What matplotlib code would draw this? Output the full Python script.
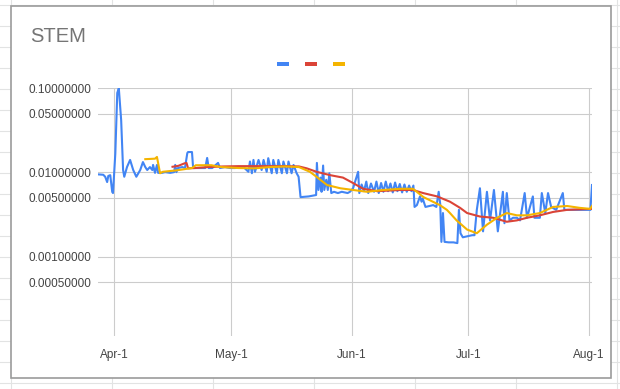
import matplotlib
matplotlib.use("Agg")
import matplotlib.pyplot as plt
from matplotlib.lines import Line2D
from matplotlib.patches import Rectangle
from matplotlib.ticker import FixedLocator, FixedFormatter, NullLocator

plt.rcParams['font.family'] = ['Liberation Sans', 'DejaVu Sans']

# ---------------- data ----------------
title = "STEM"
month_days = [0, 30, 61, 91, 122]          # days since Apr-1
month_labels = ["Apr-1", "May-1", "Jun-1", "Jul-1", "Aug-1"]
y_ticks = [0.1, 0.05, 0.01, 0.005, 0.001, 0.0005]

blue_days = [
    -4.1, -2.8, -2.3, -1.8, -1.5, -1.0, -0.5, -0.3, 0.3, 0.8, 1.2, 1.8, 2.3, 2.6, 3.3,
    4.1, 4.9, 5.7, 6.7, 7.4, 8.0, 8.5, 9.2, 9.8, 10.0, 10.5, 11.0, 11.3, 11.8,
    12.3, 13.1, 14.4, 15.4, 15.7, 16.0, 16.4, 17.5, 18.2, 18.8, 19.0, 20.0, 20.3,
    20.8, 22.1, 23.4, 23.9, 24.3, 25.2, 26.7, 27.2, 28.5, 29.8, 31.1, 32.4, 33.5,
    34.5, 34.9, 35.4, 35.8, 36.2, 37.1, 37.9, 38.4, 39.2, 39.6, 40.5, 40.9, 41.8,
    42.2, 43.1, 43.5, 44.4, 44.8, 45.6, 46.1, 46.9, 47.4,
    47.9, 50.0, 51.9, 52.1, 52.5, 53.0, 53.3, 53.7, 54.0, 54.5, 54.9, 55.3, 55.8,
    56.5, 57.5, 58.5, 60.0, 60.6, 61.4, 62.7, 63.0, 63.6, 64.2, 64.8, 65.3, 66.0,
    66.8, 67.4, 68.0, 68.6, 69.2, 69.8, 70.4, 71.0, 71.6, 72.2, 72.8, 73.4, 74.0,
    74.6, 75.2, 75.8, 76.4, 76.9,
    77.2, 77.8, 78.6, 79.0, 79.3, 80.0, 81.0, 82.0, 82.8, 83.4, 83.8, 84.1, 84.5,
    84.9, 86.0, 87.2, 88.2, 88.6, 89.0, 89.6, 92.0,
    92.6, 93.2, 94.0, 94.8, 95.8, 96.6, 97.6, 98.6, 99.9, 100.3, 100.9, 101.6, 102.5,
    103.5, 104.3, 105.5, 106.1, 107.6, 108.0, 109.4, 109.9, 110.8, 111.5, 112.3,
    113.6, 115.3, 115.7, 118.0, 121.5, 122.4, 122.8,
]
blue_vals = [
    0.0095, 0.0094, 0.0089, 0.0077, 0.0091, 0.0093, 0.0059, 0.0057, 0.0168, 0.088, 0.100, 0.042, 0.0107, 0.0089, 0.0116,
    0.0141, 0.0107, 0.0089, 0.0107, 0.0133, 0.0116, 0.0107, 0.0116, 0.0107, 0.0123, 0.0099, 0.0123, 0.0099, 0.0099,
    0.0099, 0.0101, 0.0099, 0.0101, 0.0123, 0.0101, 0.0113, 0.0116, 0.0113, 0.0170, 0.0175, 0.0175, 0.0113,
    0.0113, 0.0113, 0.0113, 0.0149, 0.0113, 0.0113, 0.0130, 0.0113, 0.0116, 0.0113, 0.0113, 0.0116, 0.0113,
    0.0102, 0.0135, 0.0098, 0.0141, 0.0102, 0.0141, 0.0107, 0.0141, 0.0102, 0.0148, 0.0098, 0.0141, 0.0098,
    0.0141, 0.0098, 0.0135, 0.0098, 0.0135, 0.0098, 0.0123, 0.0098, 0.0089,
    0.0051, 0.0052, 0.0054, 0.0130, 0.0062, 0.0087, 0.0059, 0.0121, 0.0062, 0.0082, 0.0062, 0.0098, 0.0057,
    0.0059, 0.0057, 0.0059, 0.0057, 0.0059, 0.0065, 0.0102, 0.0057, 0.0072, 0.0060, 0.0078, 0.0057, 0.0074,
    0.0059, 0.0078, 0.0057, 0.0075, 0.0059, 0.0078, 0.0060, 0.0074, 0.0058, 0.0076, 0.0060, 0.0073, 0.0058,
    0.0072, 0.0059, 0.0070, 0.0060, 0.0070,
    0.0039, 0.0041, 0.0052, 0.0045, 0.0049, 0.0039, 0.0040, 0.0041, 0.0039, 0.0059, 0.0042, 0.0015, 0.0033,
    0.0015, 0.00148, 0.00148, 0.00145, 0.0036, 0.0019, 0.0017, 0.0018,
    0.0018, 0.0036, 0.0065, 0.0020, 0.0059, 0.0027, 0.0062, 0.0020, 0.0059, 0.0025, 0.0057, 0.0027, 0.0029,
    0.0029, 0.0027, 0.0057, 0.0029, 0.0052, 0.0029, 0.0029, 0.0057, 0.0033, 0.0057, 0.0039,
    0.0036, 0.0057, 0.0036, 0.0036, 0.0036, 0.0036, 0.0071,
]

red_days = [15.0, 16.5, 18.0, 18.6, 19.0, 20.8, 24.0, 28.0, 32.0, 36.0, 40.0, 44.0, 47.5, 49.5,
            52.0, 55.5, 58.8, 61.4, 64.0, 67.6, 73.5, 76.8, 79.4, 83.0, 86.3, 88.9, 90.7,
            94.0, 97.4, 100.9, 103.5, 106.1, 109.4, 112.8, 116.4, 122.8]
red_vals = [0.0117, 0.0120, 0.0128, 0.0130, 0.0112, 0.0113, 0.0116, 0.0118, 0.0119, 0.0119, 0.0119, 0.0119, 0.0118, 0.0112,
            0.0102, 0.0093, 0.0087, 0.0075, 0.0064, 0.0060, 0.0062, 0.0062, 0.0057, 0.0052, 0.0045, 0.0038, 0.0033,
            0.0030, 0.0029, 0.0026, 0.0027, 0.0029, 0.0031, 0.0034, 0.0036, 0.0037]

yellow_days = [8.0, 10.5, 11.0, 11.8, 12.5, 16.0, 20.0, 21.0, 25.0, 27.5, 32.0, 36.0, 40.0, 44.0,
               47.5, 50.3, 52.0, 54.7, 58.1, 61.4, 65.0, 69.1, 73.5, 76.8, 79.5, 81.9, 83.7, 85.5,
               86.3, 88.0, 90.7, 93.2, 95.8, 98.4, 100.9, 103.5, 106.1, 109.4, 112.8, 116.4, 119.7,
               122.3, 122.8]
yellow_vals = [0.0144, 0.0146, 0.0153, 0.0098, 0.0102, 0.0106, 0.0113, 0.0122, 0.0122, 0.0116, 0.0113, 0.0112, 0.0116, 0.0118,
               0.0116, 0.0102, 0.0089, 0.0071, 0.0065, 0.0062, 0.0059, 0.0062, 0.0064, 0.0064, 0.0051, 0.0045, 0.0041, 0.0036,
               0.0033, 0.0027, 0.0021, 0.0019, 0.0024, 0.0029, 0.0033, 0.0031, 0.0031, 0.0033, 0.0039, 0.0040, 0.0038,
               0.0037, 0.0040]

series_colors = ["#4285F4", "#DB4437", "#F4B400"]

# ---------------- layout ----------------
W, H = 620, 389
fig = plt.figure(figsize=(W / 100, H / 100), dpi=100)
fig.patch.set_facecolor("white")

def fx(px):
    return px / W

def fy(py):
    return 1 - py / H

# spreadsheet cell grid behind the chart
for k in range(19):
    yy = 5 + 21 * k
    fig.add_artist(Line2D([0, 1], [fy(yy), fy(yy)], color="#e2e3e3", lw=0.8, zorder=0))
for k in range(7):
    xx = 11 + 101 * k
    fig.add_artist(Line2D([fx(xx), fx(xx)], [0, 1], color="#e2e3e3", lw=0.8, zorder=0))

# chart card
fig.add_artist(Rectangle((fx(11), fy(378)), fx(611) - fx(11), fy(6) - fy(378),
                         facecolor="white", edgecolor="#9b9b9b", lw=1.2, zorder=1))

# title
fig.text(fx(30), fy(42), title, fontsize=14.5, color="#757575", ha="left", va="baseline", zorder=3)

# legend swatches (no labels)
for i, c in enumerate(series_colors):
    x0 = 277 + 28 * i
    fig.add_artist(Rectangle((fx(x0), fy(66)), fx(12), 4 / H, facecolor=c, edgecolor="none", zorder=3))

# axes
ax = fig.add_axes([fx(98), fy(335.5), fx(592) - fx(98), fy(88.3) - fy(335.5)])
ax.set_zorder(2)
ax.patch.set_alpha(0)

ax.plot(blue_days, blue_vals, color=series_colors[0], lw=1.5, solid_joinstyle="round", zorder=3)
ax.plot(red_days, red_vals, color=series_colors[1], lw=1.5, solid_joinstyle="round", zorder=4)
ax.plot(yellow_days, yellow_vals, color=series_colors[2], lw=1.5, solid_joinstyle="round", zorder=5)

ax.set_yscale("log")
ymin = 10 ** (-1 - (335.5 - 88.3) / 84.2)
ax.set_ylim(ymin, 0.1)
ax.set_xlim(-4.15, 122.8)

ax.yaxis.set_major_locator(FixedLocator(y_ticks))
ax.yaxis.set_major_formatter(FixedFormatter([f"{v:.8f}" for v in y_ticks]))
ax.yaxis.set_minor_locator(NullLocator())
ax.xaxis.set_major_locator(FixedLocator(month_days))
ax.xaxis.set_major_formatter(FixedFormatter(month_labels))
ax.xaxis.set_minor_locator(NullLocator())

ax.grid(True, which="major", color="#cccccc", lw=0.8, zorder=0)
ax.set_axisbelow(True)
for s in ax.spines.values():
    s.set_visible(False)
ax.tick_params(axis="both", length=0, labelsize=8.5, labelcolor="#444444")
ax.tick_params(axis="y", pad=5)
ax.tick_params(axis="x", pad=10)

fig.savefig("out.png", dpi=100, facecolor="white")
